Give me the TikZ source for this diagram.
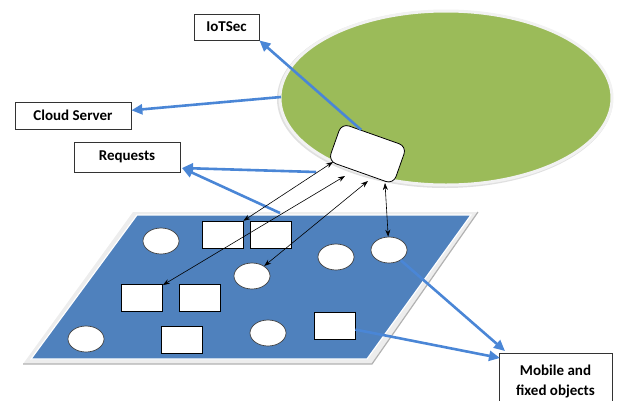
\documentclass[tikz,border=0pt]{standalone}
\usepackage{fontspec}
\setmainfont{Carlito}
\usetikzlibrary{shapes.geometric,arrows.meta,calc}
\definecolor{leafgreen}{RGB}{155,187,89}
\definecolor{plane}{RGB}{79,129,189}
\definecolor{linkblue}{RGB}{74,134,214}
\begin{document}
\begin{tikzpicture}[x=1pt,y=-1pt,
  label box/.style={draw=black!80, line width=0.8pt, fill=white,
    font=\bfseries\fontsize{15}{20}\selectfont, inner sep=0pt, align=center},
  obj rect/.style={draw=black, line width=0.7pt, fill=white,
    minimum width=41pt, minimum height=27pt, inner sep=0pt},
  obj oval/.style={ellipse, draw=black!75, line width=0.7pt, fill=white,
    minimum width=36pt, minimum height=26pt, inner sep=0pt},
  link/.style={draw=linkblue, line width=2.6pt, -{Triangle[length=11pt,width=10pt]}},
  request/.style={{Stealth[length=7pt,width=5pt]}-{Stealth[length=7pt,width=5pt]}, line width=0.6pt}
]
\clip (0,0) rectangle (619,400);

% cloud with a pale bevelled rim
\fill[black!12] (445,99) ellipse [x radius=168pt, y radius=89pt];
\filldraw[fill=leafgreen, draw=black!5, line width=3pt]
  (446,98) ellipse [x radius=166pt, y radius=87pt];

% ground plane with a pale bevelled rim
\fill[black!7] (133,212) -- (478,212) -- (372,364) -- (23,364) -- cycle;
\draw[black!30, line width=1.2pt] (23,364) -- (372,364) -- (478,212);
\filldraw[fill=plane, draw=white, line width=1.2pt]
  (137,215) -- (471,215) -- (367,359) -- (31,359) -- cycle;

% objects on the plane
\node[obj oval] (e1) at (161,241) {};
\node[obj rect] (r1) at (222.5,234.5) {};
\node[obj rect] (r2) at (270.5,234.5) {};
\node[obj oval] (e2) at (336,257) {};
\node[obj oval] (e3) at (389,250) {};
\node[obj oval] (e4) at (252,276) {};
\node[obj rect] (r3) at (142,297.5) {};
\node[obj rect] (r4) at (200,297.5) {};
\node[obj oval] (e5) at (86,339) {};
\node[obj rect] (r5) at (182,340) {};
\node[obj oval] (e6) at (268,333) {};
\node[obj rect] (r6) at (334.5,325.5) {};

% security gateway
\node[draw, fill=white, rounded corners=8pt, minimum width=69pt, minimum height=40pt,
  rotate=-19.5, line width=0.8pt] (sec) at (367.5,153.75) {};

% labels
\node[label box, minimum width=65pt, minimum height=26pt] (iot) at (226.5,27) {IoTSec};
\node[label box, minimum width=116pt, minimum height=27pt] (cloud) at (73,115.5) {Cloud Server};
\node[label box, minimum width=106pt, minimum height=30pt] (req) at (127,157) {Requests};
\node[label box, minimum width=113pt, minimum height=57pt, anchor=north] (mob) at (555.5,353)
  {Mobile and\\fixed objects};

% connector ends
\coordinate (secport) at ($(sec.north west)!0.3!(sec.north east)$);
\coordinate (rim) at (281,97);
\coordinate (reqtip) at (182,168);
\coordinate (q1) at (316,172);
\coordinate (q2) at (280,213);
\coordinate (m1) at (505,351);
\coordinate (m2) at (500,358);
\coordinate (a1) at (333,162);
\coordinate (a2) at (345,176);
\coordinate (a3) at (368,181);
\coordinate (a4) at (385,183);

% blue links
\draw[link] (secport) -- (iot.south east);
\draw[link] (rim) -- (cloud);
\draw[link] (q1) -- (reqtip);
\draw[link] (q2) -- (reqtip);
\draw[link] (e3) -- (m1);
\draw[link] (r6) -- (m2);

% request arrows
\draw[request] (a1) -- (r1);
\draw[request] (a2) -- (r3);
\draw[request] (a3) -- (e4);
\draw[request] (a4) -- (e3);
\end{tikzpicture}
\end{document}
